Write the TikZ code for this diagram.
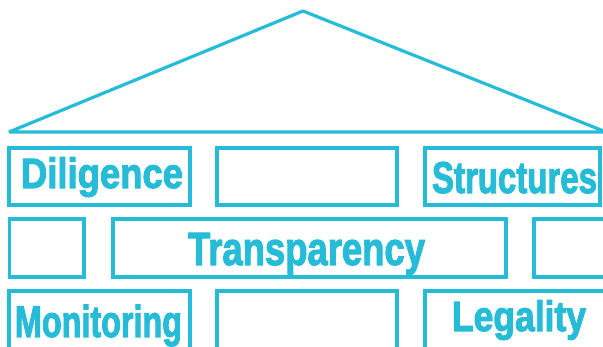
\documentclass[tikz,border=0pt]{standalone}
\usepackage{fontspec}
\usepackage{graphicx}
\newfontfamily\impactish{Liberation Sans Bold}[FakeBold=2.6]
\definecolor{cyanline}{RGB}{38,188,216}
\tikzset{
  brick/.style={draw=cyanline, line width=3.2pt, inner sep=0pt, outer sep=0pt, rectangle},
  roof/.style={draw=cyanline, line width=3.2pt, line join=bevel},
  lbl/.style={text=cyanline, inner sep=0pt, outer sep=0pt, anchor=base west, font=\impactish}
}
\newcommand{\fitw}[3]{\resizebox{#1pt}{1.06\height}{\fontsize{#2}{#2}\selectfont #3}}
\begin{document}
\begin{tikzpicture}[x=1pt,y=-1pt]
\useasboundingbox (0,0) rectangle (603,347);
% roof
\coordinate (rl) at (9,132);
\coordinate (ra) at (303,11);
\coordinate (rr) at (606,132);
\draw[roof] (rr) -- (ra) -- (rl) -- cycle;
% row 1
\node[brick, minimum width=181pt, minimum height=57pt] (b11) at (99.5,176.5) {};
\node[brick, minimum width=180pt, minimum height=57pt] (b12) at (307,176.5) {};
\node[brick, minimum width=175pt, minimum height=57pt] (b13) at (512.5,176.5) {};
% row 2
\node[brick, minimum width=74.5pt, minimum height=58pt] (b21) at (46.75,248) {};
\node[brick, minimum width=393pt, minimum height=58pt] (b22) at (309.5,248) {};
\node[brick, minimum width=90pt, minimum height=58pt] (b23) at (579,248) {};
% row 3
\node[brick, minimum width=181pt, minimum height=70pt] (b31) at (99.5,326) {};
\node[brick, minimum width=180pt, minimum height=70pt] (b32) at (307,326) {};
\node[brick, minimum width=200pt, minimum height=70pt] (b33) at (525,326) {};
% labels
\node[lbl] (tD) at (21,188) {\fitw{162}{40}{Diligence}};
\node[lbl] (tS) at (432,193) {\fitw{165}{42}{Structures}};
\node[lbl] (tT) at (188,265) {\fitw{237}{44}{Transparency}};
\node[lbl] (tM) at (15,337) {\fitw{167}{42}{Monitoring}};
\node[lbl] (tL) at (452,331) {\fitw{134}{40}{Legality}};
\end{tikzpicture}
\end{document}
